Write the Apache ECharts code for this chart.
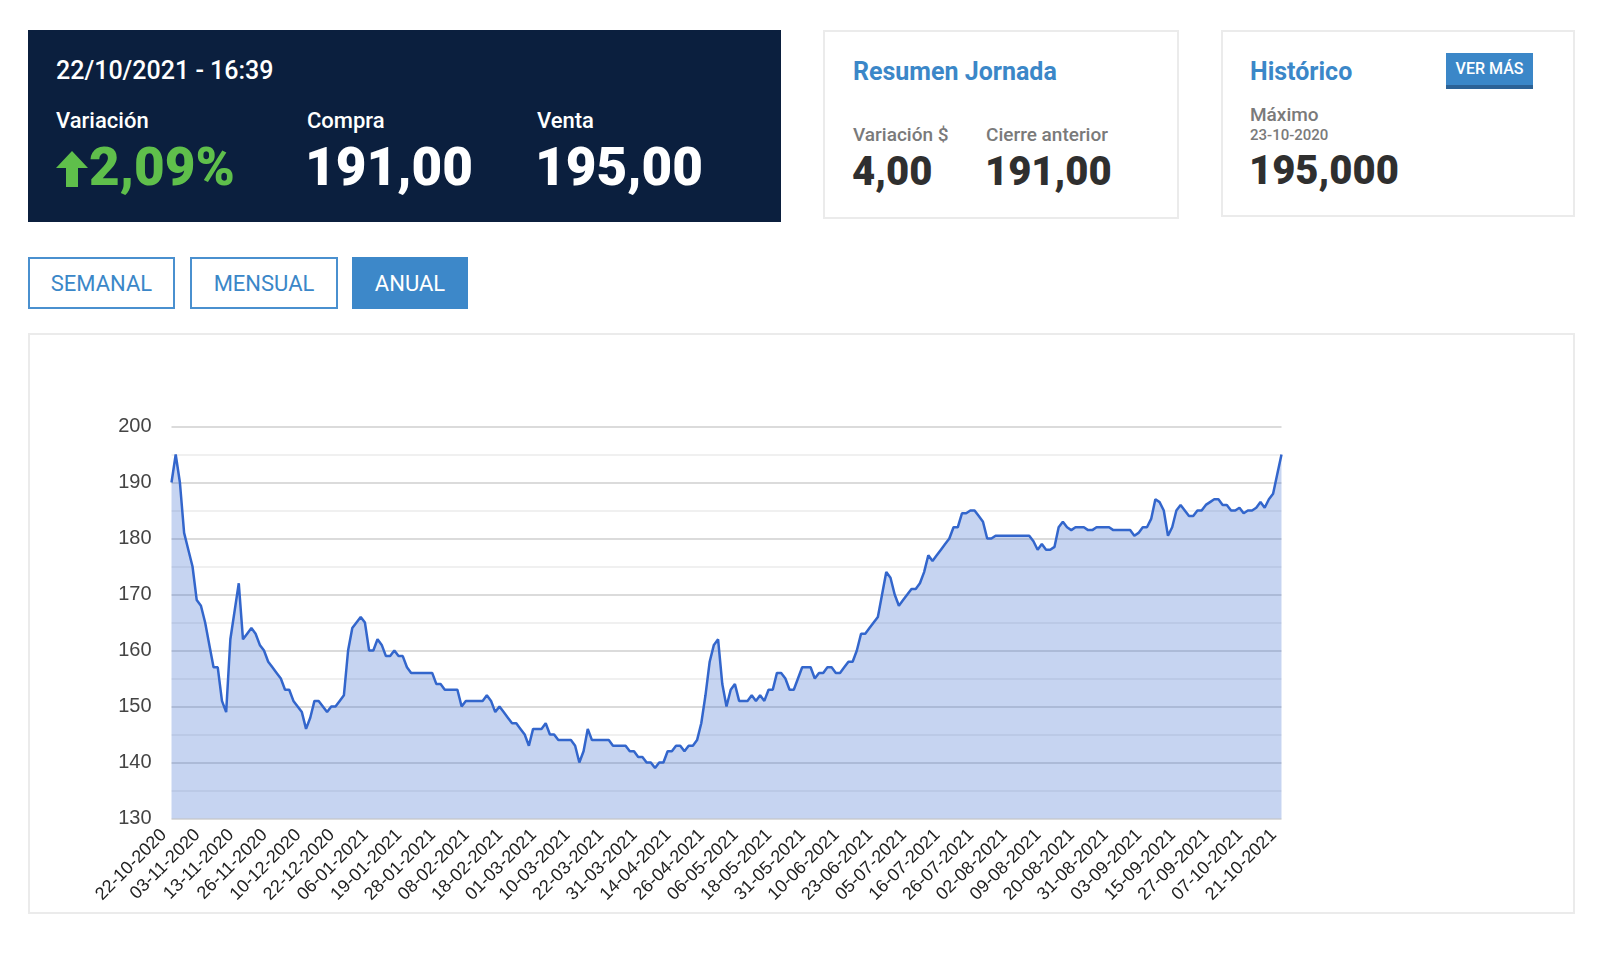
<!DOCTYPE html>
<html>
<head>
<meta charset="utf-8">
<title>Cotización anual</title>
<script src="https://cdn.jsdelivr.net/npm/echarts@6/dist/echarts.min.js"></script>
<style>
    html, body { margin: 0; padding: 0; background: #fff; }
    body { width: 1600px; height: 953px; position: relative; overflow: hidden; font-family: Roboto, "Noto Sans", sans-serif; }
    .abs { position: absolute; white-space: nowrap; line-height: 1; }
    .panel { position: absolute; left: 28px; top: 30px; width: 753px; height: 192px; background: #0b1f3e; }
    .card { position: absolute; background: #fff; border: 2px solid #ebebeb; box-sizing: border-box; }
    .white { color: #fff; }
    .blue { color: #3b87c8; font-weight: 700; }
    .grey { color: #7a7a7a; font-weight: 500; }
    .dark { color: #2f2f2f; font-weight: 900; }
    .big { font-size: 53px; font-weight: 900; }
    .btn { position: absolute; top: 257px; height: 52px; box-sizing: border-box; border: 2px solid #4a90cf;
           color: #3b87c8; font-size: 22px; display: flex; align-items: center; justify-content: center; background: #fff; }
    .btn.on { background: #3d88c9; color: #fff; border-color: #3d88c9; }
    #main { position: absolute; left: 0; top: 0; width: 1600px; height: 953px; }
</style>
</head>
<body>

<!-- cabecera -->
<div class="panel"></div>
<div class="abs white" style="left:56px;top:58px;font-size:25px;font-weight:500;">22/10/2021 - 16:39</div>
<div class="abs white" style="left:56px;top:110px;font-size:22px;font-weight:500;">Variación</div>
<div class="abs white" style="left:307px;top:110px;font-size:22px;font-weight:500;">Compra</div>
<div class="abs white" style="left:537px;top:110px;font-size:22px;font-weight:500;">Venta</div>
<svg class="abs" style="left:56px;top:151px;" width="32" height="36" viewBox="0 0 32 36">
    <polygon points="16,0 32,17 22,17 22,36 10,36 10,17 0,17" fill="#5fbf4b"/>
</svg>
<div class="abs big" style="left:89px;top:141px;color:#5fbf4b;">2,09%</div>
<div class="abs white big" style="left:305px;top:141px;">191,00</div>
<div class="abs white big" style="left:535px;top:141px;">195,00</div>

<div class="card" style="left:823px;top:30px;width:356px;height:189px;"></div>
<div class="abs blue" style="left:853px;top:59px;font-size:25px;">Resumen Jornada</div>
<div class="abs grey" style="left:853px;top:125px;font-size:19px;">Variación $</div>
<div class="abs grey" style="left:986px;top:125px;font-size:19px;">Cierre anterior</div>
<div class="abs dark" style="left:852px;top:152px;font-size:40px;">4,00</div>
<div class="abs dark" style="left:985px;top:152px;font-size:40px;">191,00</div>

<div class="card" style="left:1221px;top:30px;width:354px;height:187px;"></div>
<div class="abs blue" style="left:1250px;top:59px;font-size:25px;">Histórico</div>
<div class="abs" style="left:1446px;top:53px;width:87px;height:36px;box-sizing:border-box;background:#3b87c8;border-bottom:4px solid #2c6296;color:#fff;font-size:16px;font-weight:500;display:flex;align-items:center;justify-content:center;">VER MÁS</div>
<div class="abs grey" style="left:1250px;top:105px;font-size:19px;">Máximo</div>
<div class="abs grey" style="left:1250px;top:128px;font-size:15px;">23-10-2020</div>
<div class="abs dark" style="left:1249px;top:151px;font-size:40px;">195,000</div>

<div class="btn" style="left:28px;width:147px;">SEMANAL</div>
<div class="btn" style="left:190px;width:148px;">MENSUAL</div>
<div class="btn on" style="left:352px;width:116px;">ANUAL</div>

<div class="card" style="left:28px;top:333px;width:1547px;height:581px;"></div>
<div id="main"></div>

<script>
    // etiquetas del eje x (una cada 8 cotizaciones)
    var tickLabels = ['22-10-2020', '03-11-2020', '13-11-2020', '26-11-2020', '10-12-2020', '22-12-2020',
        '06-01-2021', '19-01-2021', '28-01-2021', '08-02-2021', '18-02-2021', '01-03-2021', '10-03-2021',
        '22-03-2021', '31-03-2021', '14-04-2021', '26-04-2021', '06-05-2021', '18-05-2021', '31-05-2021',
        '10-06-2021', '23-06-2021', '05-07-2021', '16-07-2021', '26-07-2021', '02-08-2021', '09-08-2021',
        '20-08-2021', '31-08-2021', '03-09-2021', '15-09-2021', '27-09-2021', '07-10-2021', '21-10-2021'];
    var labelStep = 8;

    // cotización de venta
    var prices = [
        190, 195, 190, 181, 178, 175, 169, 168, 165, 161,
        157, 157, 151, 149, 162, 167, 172, 162, 163, 164,
        163, 161, 160, 158, 157, 156, 155, 153, 153, 151,
        150, 149, 146, 148, 151, 151, 150, 149, 150, 150,
        151, 152, 160, 164, 165, 166, 165, 160, 160, 162,
        161, 159, 159, 160, 159, 159, 157, 156, 156, 156,
        156, 156, 156, 154, 154, 153, 153, 153, 153, 150,
        151, 151, 151, 151, 151, 152, 151, 149, 150, 149,
        148, 147, 147, 146, 145, 143, 146, 146, 146, 147,
        145, 145, 144, 144, 144, 144, 143, 140, 142, 146,
        144, 144, 144, 144, 144, 143, 143, 143, 143, 142,
        142, 141, 141, 140, 140, 139, 140, 140, 142, 142,
        143, 143, 142, 143, 143, 144, 147, 152, 158, 161,
        162, 154, 150, 153, 154, 151, 151, 151, 152, 151,
        152, 151, 153, 153, 156, 156, 155, 153, 153, 155,
        157, 157, 157, 155, 156, 156, 157, 157, 156, 156,
        157, 158, 158, 160, 163, 163, 164, 165, 166, 170,
        174, 173, 170, 168, 169, 170, 171, 171, 172, 174,
        177, 176, 177, 178, 179, 180, 182, 182, 184.5, 184.5,
        185, 185, 184, 183, 180, 180, 180.5, 180.5, 180.5, 180.5,
        180.5, 180.5, 180.5, 180.5, 180.5, 179.5, 178, 179, 178, 178,
        178.5, 182, 183, 182, 181.5, 182, 182, 182, 181.5, 181.5,
        182, 182, 182, 182, 181.5, 181.5, 181.5, 181.5, 181.5, 180.5,
        181, 182, 182, 183.5, 187, 186.5, 185, 180.5, 182, 185,
        186, 185, 184, 184, 185, 185, 186, 186.5, 187, 187,
        186, 186, 185, 185, 185.5, 184.5, 185, 185, 185.5, 186.5,
        185.5, 187, 188, 191.5, 195
    ];

    var yMin = 130, yMax = 200, yStep = 10;

    var categories = prices.map(function (p, i) {
        return i % labelStep === 0 ? tickLabels[i / labelStep] : '';
    });

    var myChart = echarts.init(document.getElementById('main'));
    var option = {
        animation: false,
        grid: { left: 171.5, top: 426.5, width: 1110, height: 392 },
        xAxis: {
            type: 'category',
            data: categories,
            boundaryGap: false,
            axisLine: { show: false },
            axisTick: { show: false },
            splitLine: { show: false },
            axisLabel: {
                interval: labelStep - 1,
                rotate: 45,
                margin: 6,
                padding: [0, 11, 0, 0],
                fontSize: 18,
                color: '#222',
                fontFamily: 'Liberation Sans, Arial, sans-serif'
            }
        },
        yAxis: {
            type: 'value',
            min: yMin,
            max: yMax,
            interval: yStep,
            axisLine: { show: false },
            axisTick: { show: false },
            axisLabel: {
                margin: 20,
                fontSize: 20,
                color: '#444',
                fontFamily: 'Liberation Sans, Arial, sans-serif'
            },
            splitLine: { lineStyle: { color: '#cfcfcf', width: 1.5 } },
            minorTick: { show: false, splitNumber: 2 },
            minorSplitLine: { show: true, lineStyle: { color: '#ececec', width: 1.5 } }
        },
        series: [{
            name: 'Venta',
            type: 'line',
            data: prices,
            symbol: 'none',
            lineStyle: { color: '#3366cc', width: 2.5 },
            areaStyle: { color: '#3366cc', opacity: 0.28, origin: 'start' }
        }]
    };
    myChart.setOption(option);
</script>
</body>
</html>
